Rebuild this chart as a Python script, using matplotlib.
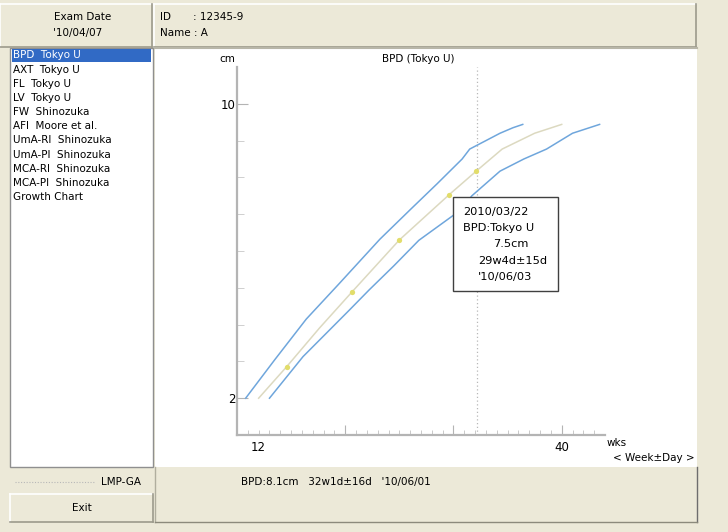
import matplotlib
matplotlib.use("Agg")
import matplotlib.pyplot as plt
from matplotlib.patches import Rectangle

# ---------------- data ----------------
upper_wk = [10.8, 13.5, 16.4, 19.4, 23.2, 26.1, 28.5, 30.8, 31.5, 33.0, 34.3, 35.5, 36.4]
upper_cm = [2.0, 3.05, 4.15, 5.1, 6.32, 7.15, 7.83, 8.5, 8.77, 9.0, 9.2, 9.35, 9.44]

middle_wk = [12.0, 14.6, 17.6, 20.6, 25.0, 29.6, 32.1, 34.5, 37.5, 40.0]
middle_cm = [2.0, 2.86, 3.9, 4.88, 6.3, 7.53, 8.17, 8.77, 9.2, 9.44]

lower_wk = [13.0, 16.1, 18.2, 20.4, 22.2, 24.5, 26.8, 30.6, 31.7, 34.3, 36.5, 38.6, 41.0, 43.5]
lower_cm = [2.0, 3.13, 3.75, 4.4, 4.94, 5.6, 6.29, 7.1, 7.5, 8.17, 8.5, 8.77, 9.2, 9.44]

obs_wk = [14.6, 20.6, 25.0, 29.6, 32.1]
obs_cm = [2.86, 4.88, 6.3, 7.53, 8.17]

current_wk = 32.14

list_items = ["BPD  Tokyo U", "AXT  Tokyo U", "FL  Tokyo U", "LV  Tokyo U",
              "FW  Shinozuka", "AFI  Moore et al.", "UmA-RI  Shinozuka",
              "UmA-PI  Shinozuka", "MCA-RI  Shinozuka", "MCA-PI  Shinozuka",
              "Growth Chart"]

tooltip_lines = ["2010/03/22", "BPD:Tokyo U", "7.5cm", "29w4d\u00b115d", "'10/06/03"]
status_text = "BPD:8.1cm   32w1d\u00b116d   '10/06/01"

y_major = [2, 10]
y_minor = [3, 4, 5, 6, 7, 8, 9]
x_major = [20, 30, 40]
x_minor = list(range(11, 44))
x_labels = [12, 40]

# ---------------- figure ----------------
W, H = 728, 532
fig = plt.figure(figsize=(W / 100, H / 100), dpi=100)
fig.patch.set_facecolor("#ece9d8")
plt.rcParams['font.family'] = ['DejaVu Sans']
FS = 7.5
TFS = 8.5

bg = fig.add_axes([0, 0, 1, 1])
bg.set_xlim(0, W)
bg.set_ylim(H, 0)
bg.axis("off")
bg.set_zorder(0)

BEIGE = "#ece9d8"
DARK = "#9c9a8c"
LIGHT = "#ffffff"


def box3d(x0, y0, x1, y1, face=BEIGE, light=LIGHT, dark=DARK, lw=1.2):
    bg.add_patch(Rectangle((x0, y0), x1 - x0, y1 - y0, facecolor=face, edgecolor="none"))
    bg.plot([x0, x1], [y0, y0], color=light, lw=lw)
    bg.plot([x0, x0], [y0, y1], color=light, lw=lw)
    bg.plot([x0, x1], [y1, y1], color=dark, lw=lw)
    bg.plot([x1, x1], [y0, y1], color=dark, lw=lw)


# header boxes
box3d(0, 4, 152, 47)
box3d(154, 4, 696, 47)
bg.text(83, 17, "Exam Date", ha="center", va="center", fontsize=FS)
bg.text(78, 33, "'10/04/07", ha="center", va="center", fontsize=FS)
bg.text(160, 17, "ID", ha="left", va="center", fontsize=FS)
bg.text(193, 17, ": 12345-9", ha="left", va="center", fontsize=FS)
bg.text(160, 33, "Name : A", ha="left", va="center", fontsize=FS)

# list box
bg.add_patch(Rectangle((10, 48), 143, 419, facecolor="white", edgecolor="#8f8f8f", lw=1))
bg.add_patch(Rectangle((12, 49), 139, 13, facecolor="#316ac5", edgecolor="none"))
for i, item in enumerate(list_items):
    y = 55.5 + i * 14.15
    bg.text(13, y, item, ha="left", va="center", fontsize=FS,
            color="white" if i == 0 else "black")

# plot panel (white)
bg.add_patch(Rectangle((155, 48), 542, 419, facecolor="white", edgecolor="none"))
bg.plot([155, 697], [48, 48], color="#b8b6a8", lw=1.5)
bg.plot([697, 697], [467, 522], color="#6e6e6e", lw=1)

# LMP-GA row
bg.plot([15, 95], [482, 482], color="#b8b8b8", lw=0.8, ls=(0, (1, 1.5)))
bg.text(141, 482, "LMP-GA", ha="right", va="center", fontsize=FS)

# Exit button
box3d(10, 494, 153, 522)
bg.text(82, 508, "Exit", ha="center", va="center", fontsize=FS)

# status panel
bg.plot([155, 155], [467, 522], color="#b0ae9e", lw=1)
bg.plot([155, 697], [522, 522], color="#8c8a7c", lw=1)
bg.text(241, 482, status_text, ha="left", va="center", fontsize=FS)

# chart texts
bg.text(227, 59, "cm", ha="center", va="center", fontsize=FS)
bg.text(418, 59, "BPD (Tokyo U)", ha="center", va="center", fontsize=FS)
bg.text(607, 443, "wks", ha="left", va="center", fontsize=FS)
bg.text(613, 458, "< Week\u00b1Day >", ha="left", va="center", fontsize=FS)

# ---------------- plot axes ----------------
ax = fig.add_axes([237 / W, 1 - 435 / H, 368 / W, 368 / H])
ax.set_zorder(2)
ax.patch.set_alpha(0)
ax.set_xlim(10, 44)
ax.set_ylim(1, 11)
for s in ["top", "right"]:
    ax.spines[s].set_visible(False)
for s in ["left", "bottom"]:
    ax.spines[s].set_color("#b4b4b4")
    ax.spines[s].set_linewidth(1.6)

ax.set_yticks(y_major)
ax.set_yticklabels([str(v) for v in y_major], fontsize=TFS)
ax.set_yticks(y_minor, minor=True)
ax.set_xticks(x_major)
ax.set_xticklabels(["" for _ in x_major])
ax.set_xticks(x_minor, minor=True)
ax.tick_params(axis="y", which="major", direction="in", length=8, color="#b4b4b4", pad=1)
ax.tick_params(axis="y", which="minor", direction="in", length=5, color="#c8c8c8")
ax.tick_params(axis="x", which="major", direction="in", length=7, color="#b4b4b4")
ax.tick_params(axis="x", which="minor", direction="in", length=3.5, color="#c0c0c0")
for v in x_labels:
    ax.text(v, -0.015, str(v), transform=ax.get_xaxis_transform(),
            ha="center", va="top", fontsize=TFS)

ax.axvline(current_wk, color="#b8b8b8", lw=0.9, ls=(0, (1, 2)))

ax.plot(upper_wk, upper_cm, color="#6fa6dc", lw=1.1)
ax.plot(lower_wk, lower_cm, color="#6fa6dc", lw=1.1)
ax.plot(middle_wk, middle_cm, color="#dcd9c0", lw=1.1)
ax.plot(obs_wk, obs_cm, ls="none", marker="o", ms=3.8, color="#e2dd6a", mec="none")

# tooltip box
bg2 = fig.add_axes([0, 0, 1, 1])
bg2.set_xlim(0, W)
bg2.set_ylim(H, 0)
bg2.axis("off")
bg2.set_zorder(3)
bg2.add_patch(Rectangle((453, 197), 105, 94, facecolor="white", edgecolor="#404040", lw=1))
tx = [463, 463, 493, 478, 478]
for i, (t, x) in enumerate(zip(tooltip_lines, tx)):
    bg2.text(x, 212 + i * 16.2, t, ha="left", va="center", fontsize=8.2)

fig.savefig("out.png", dpi=100, facecolor=fig.get_facecolor())
